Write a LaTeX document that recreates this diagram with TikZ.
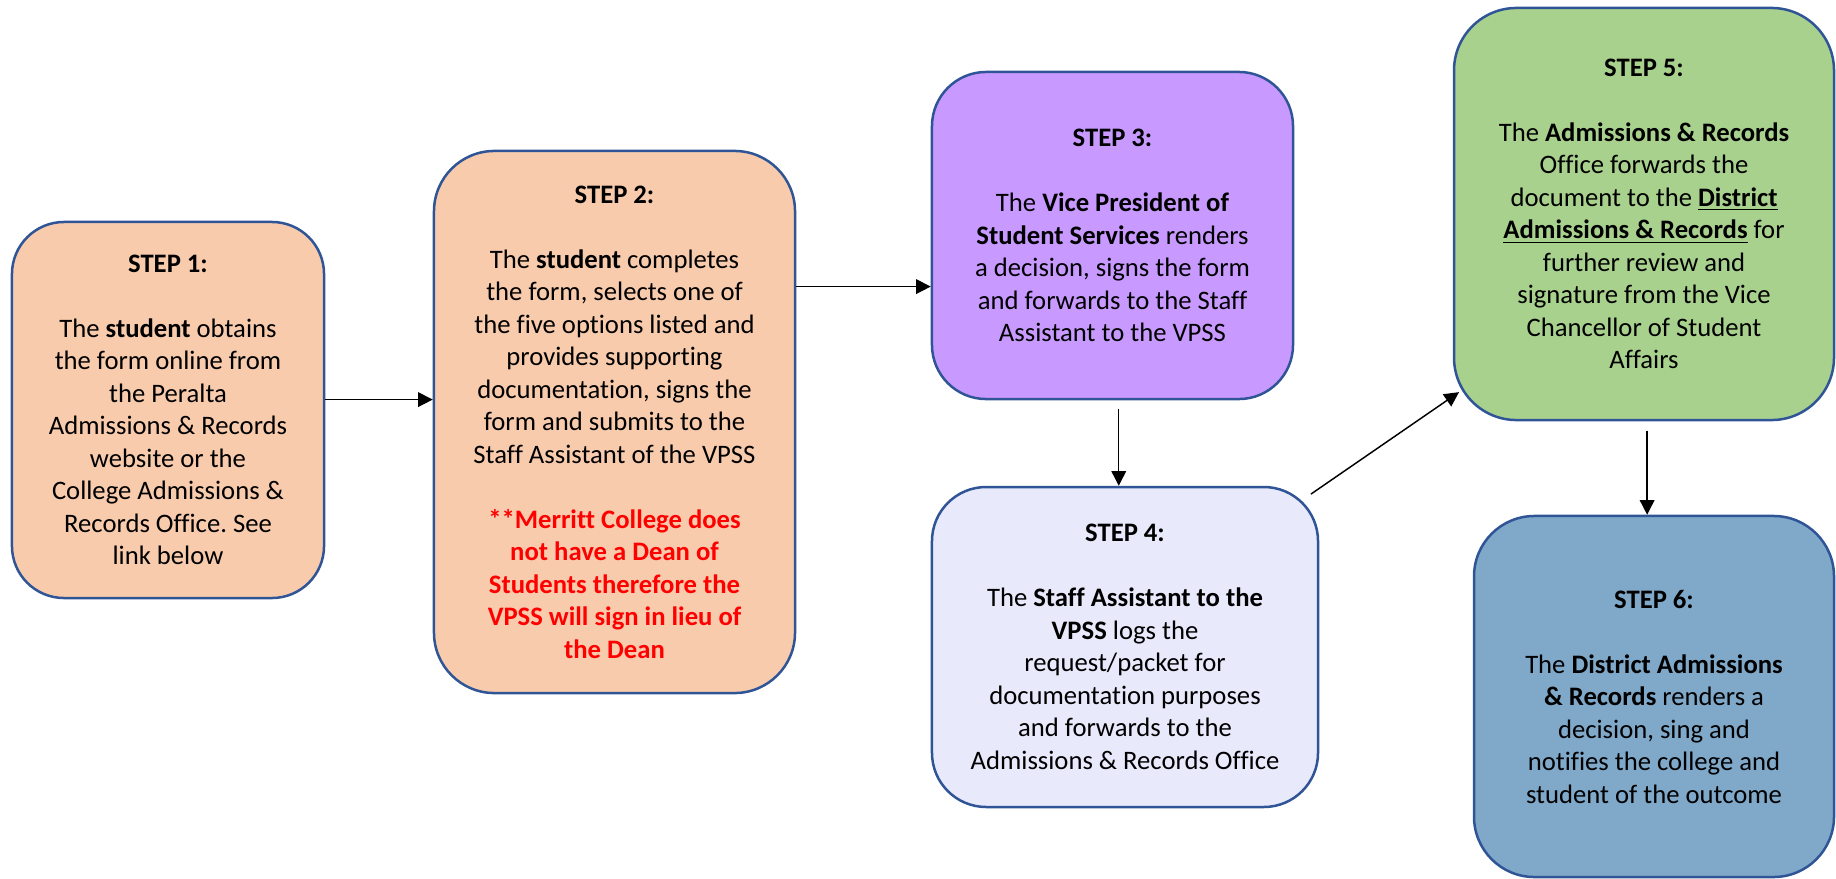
\documentclass[tikz,border=0pt]{standalone}
\usepackage{fontspec}
\setmainfont{Carlito}[Ligatures=NoCommon]
\usetikzlibrary{arrows.meta}
\definecolor{peach}{HTML}{F8CBAD}
\definecolor{violet}{HTML}{C899FF}
\definecolor{lavender}{HTML}{E9E9FC}
\definecolor{leaf}{HTML}{A9D18E}
\definecolor{steel}{HTML}{7FA8C9}
\definecolor{rim}{HTML}{2F5597}
\newcommand\deannote[1]{\textcolor{red}{\textbf{#1}}}
\frenchspacing
\begin{document}
\begin{tikzpicture}[x=0.48pt, y=-0.48pt,
        stepbox/.style={draw=rim, line width=1.2pt, align=center, inner sep=0pt,
            font=\fontsize{12.8}{15.6}\selectfont},
        flow/.style={-{Triangle[length=7pt,width=7pt]}, line width=0.7pt}]
        \useasboundingbox (0,0) rectangle (1836,879);

        \node[stepbox, fill=peach, minimum width=149.8pt, minimum height=180.5pt, rounded corners=25pt] (b1) at (168,410)
            {\textbf{STEP 1:}\\[15.6pt]The \textbf{student} obtains\\the form online from\\the Peralta\\Admissions \& Records\\website or the\\College Admissions \&\\Records Office. See\\link below};
        \node[stepbox, fill=peach, minimum width=173.3pt, minimum height=260.2pt, rounded corners=29pt] (b2) at (614.5,422)
            {\textbf{STEP 2:}\\[15.6pt]The \textbf{student} completes\\the form, selects one of\\the five options listed and\\provides supporting\\documentation, signs the\\form and submits to the\\Staff Assistant of the VPSS\\[15.6pt]
            \deannote{**Merritt College does}\\\deannote{not have a Dean of}\\\deannote{Students therefore the}\\\deannote{VPSS will sign in lieu of}\\\deannote{the Dean}};
        \node[stepbox, fill=violet, minimum width=173.3pt, minimum height=157pt, rounded corners=26pt] (b3) at (1112.5,235.5)
            {\textbf{STEP 3:}\\[15.6pt]The \textbf{Vice President of}\\\textbf{Student Services} renders\\a decision, signs the form\\and forwards to the Staff\\Assistant to the VPSS};
        \node[stepbox, fill=lavender, minimum width=185.3pt, minimum height=153.6pt, rounded corners=26pt] (b4) at (1125,647)
            {\textbf{STEP 4:}\\[15.6pt]The \textbf{Staff Assistant to the}\\\textbf{VPSS} logs the\\request/packet for\\documentation purposes\\and forwards to the\\Admissions \& Records Office};
        \node[stepbox, fill=leaf, minimum width=182.4pt, minimum height=197.8pt, rounded corners=30pt] (b5) at (1644,214)
            {\textbf{STEP 5:}\\[15.6pt]The \textbf{Admissions \& Records}\\Office forwards the\\document to the \underline{\textbf{District}}\\\underline{\textbf{Admissions \& Records}} for\\further review and\\signature from the Vice\\Chancellor of Student\\Affairs};
        \node[stepbox, fill=steel, minimum width=172.8pt, minimum height=173.3pt, rounded corners=29pt] (b6) at (1654,696.5)
            {\textbf{STEP 6:}\\[15.6pt]The \textbf{District Admissions}\\\textbf{\& Records} renders a\\decision, sing and\\notifies the college and\\student of the outcome};

        \draw[flow] ([yshift=5pt]b1.east) -- ([yshift=5pt]b1.east -| b2.west);
        \draw[flow] ([yshift=65pt]b2.east) -- ([yshift=65pt]b2.east -| b3.west);
        \draw[flow] ([xshift=3pt,yshift=-4pt]b3.south) -- ([xshift=3pt]b3.south |- b4.north);
        \draw[flow] ([shift={(-4pt,-4pt)}]b4.north east) -- ([shift={(3pt,14pt)}]b5.south west);
        \draw[flow] ([xshift=1.5pt,yshift=-4.5pt]b5.south) -- ([xshift=1.5pt]b5.south |- b6.north);
\end{tikzpicture}
\end{document}
